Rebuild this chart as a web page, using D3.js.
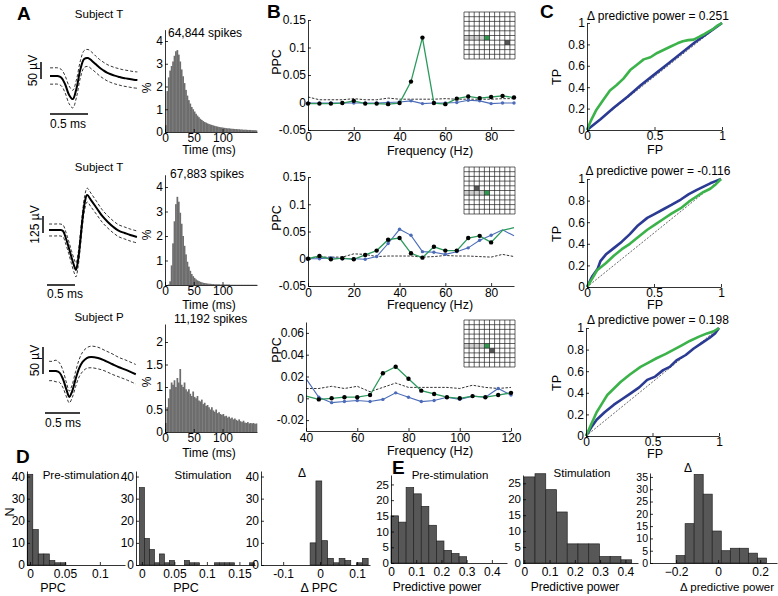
<!DOCTYPE html>
<html><head><meta charset="utf-8">
<script src="https://cdn.jsdelivr.net/npm/d3@7"></script>
<style>body{margin:0;background:#fff;}</style>
</head><body>
<svg id="c" width="778" height="596"></svg>
<script>
// ---------------- DATA ----------------
// Panel A waveforms (time ms, mean µV, sd µV)
const waveT1 = [0,0.05,0.1,0.15,0.2,0.25,0.3,0.35,0.4,0.45,0.5,0.55,0.6,0.65,0.7,0.75,0.8,0.85,0.9,0.95,1.0,1.05,1.1,1.15];
const waveMean1 = [0,0,0,-5,-25,-55,-68,-35,20,50,53,45,35,25,17,10,5,1,-2,-5,-7,-9,-11,-12];
const waveSd1 = [24,24,24,24,25,26,26,26,25,25,25,25,24,24,24,24,24,24,24,24,24,24,24,24];
const waveT2 = [0,0.1,0.2,0.25,0.3,0.35,0.4,0.45,0.48,0.52,0.56,0.6,0.64,0.68,0.75,0.85,0.95,1.05,1.15,1.25,1.35,1.45,1.57];
const waveMean2 = [0,0,0,-7,-59,-125,-198,-265,-294,-220,-74,88,206,257,220,162,103,59,22,-7,-22,-37,-51];
const waveSd2 = [44,44,44,44,45,46,48,50,51,50,48,48,50,51,50,48,46,45,44,44,44,44,44];
const waveT3 = [0,0.05,0.1,0.15,0.2,0.25,0.29,0.33,0.38,0.43,0.48,0.54,0.6,0.7,0.8,0.9,1.0,1.1,1.24];
const waveMean3 = [0,0,0,-3,-15,-35,-48,-38,-15,5,17,24,26,24,19,13,7,2,-6];
const waveSd3 = [18,18,20,18,16,13,11,12,14,16,18,19,20,20,19,19,18,18,18];
const subjects = ["Subject T","Subject T","Subject P"];
const voltBars = ["50 µV","125 µV","50 µV"];
const spikeCounts = ["64,844 spikes","67,883 spikes","11,192 spikes"];
// ISI histograms, % per 2.5 ms bin, 0..160 ms
const isiBin = 2.5;
const isi1 = [0.3,1.8,2.4,2.7,2.9,3.1,3.35,3.55,3.6,3.4,3.1,2.75,2.45,2.15,1.85,1.6,1.4,1.25,1.1,1.0,0.9,0.8,0.72,0.65,0.58,0.53,0.48,0.44,0.41,0.38,0.35,0.33,0.31,0.29,0.27,0.25,0.24,0.22,0.21,0.2,
  0.19,0.18,0.17,0.16,0.16,0.15,0.14,0.14,0.13,0.13,0.12,0.12,0.11,0.11,0.1,0.1,0.1,0.09,0.09,0.09,0.08,0.08,0.08,0.07];
const isi2 = [0,0,0.02,0.15,0.8,1.7,2.6,3.3,3.6,3.4,2.95,2.5,2.0,1.6,1.25,0.95,0.75,0.58,0.45,0.36,0.29,0.23,0.19,0.16,0.13,0.11,0.09,0.08,0.07,0.06,
  0.05,0.05,0.04,0.04,0.03,0.03,0.03,0.03,0.02,0.02,0.02,0.02,0.02,0.02,0.02,0.01,0.01,0.01,0.01,0.01,0.01,0.01,0.01,0.01,0.01,0.01,0.01,0.01,0.01,0.01,0.01,0.01,0.01,0.01];
const isi3 = [0.2,0.55,0.75,0.95,1.1,1.05,1.15,1.0,1.2,1.1,1.4,1.05,1.0,1.1,0.95,0.9,0.95,0.85,0.8,0.9,0.78,0.75,0.8,0.7,0.68,0.72,0.62,0.65,0.58,0.6,
  0.55,0.5,0.55,0.48,0.45,0.5,0.42,0.44,0.4,0.38,0.4,0.35,0.36,0.32,0.34,0.3,0.32,0.28,0.3,0.27,0.25,0.28,0.24,0.22,0.25,0.21,0.2,0.22,0.19,0.2,0.19,0.2,0.18,0.19];

// Panel B: PPC spectra
const freqB = [0,5,10,15,20,25,30,35,40,45,50,55,60,65,70,75,80,85,90];
const freqB3 = [40,45,50,55,60,65,70,75,80,85,90,95,100,105,110,115,120];
const greenB1 = [-0.002,-0.002,-0.002,-0.001,0.003,-0.002,-0.002,-0.003,-0.001,0.038,0.118,-0.001,-0.003,0.007,0.011,0.008,0.01,0.012,0.009];
const blueB1  = [-0.001,-0.001,-0.001,-0.001,-0.001,-0.001,-0.001,0,0.001,0.003,-0.002,-0.001,-0.001,0,0.004,0.003,-0.002,-0.001,-0.001];
const dashB1  = [0.01,0.005,0.005,0.005,0.007,0.005,0.005,0.008,0.006,0.006,0.006,0.006,0.007,0.006,0.006,0.006,0.006,0.007,0.007];
const greenB2 = [0,0.005,-0.001,0.001,-0.001,0.007,0.015,0.035,0.038,0.01,0.002,0.022,0.015,0.015,0.038,0.042,0.03,0.052,0.057];
const blueB2  = [0,0,0.002,0,0,-0.001,0.004,0.028,0.054,0.043,0.013,0.012,0.008,0.013,0.02,0.034,0.043,0.053,0.042];
const dashB2  = [0.002,0.003,0.003,0.003,0.009,0.008,0.004,0.005,0.005,0.005,0.003,0.004,0.006,0.005,0.005,0.004,0.003,0.008,0.004];
const greenB3 = [0.002,-0.001,0,0.001,0.001,0.003,0.023,0.029,0.018,0.007,0.004,0.001,0,0.002,0.001,0.003,0.005];
const blueB3  = [0.018,0.001,-0.004,-0.003,-0.002,-0.003,-0.001,0.005,0.001,-0.003,-0.002,0.001,-0.001,0.002,0.001,0.009,0.003];
const dashB3  = [0.009,0.009,0.011,0.009,0.011,0.006,0.01,0.014,0.01,0.01,0.01,0.01,0.009,0.012,0.01,0.009,0.01];
const markFromB = [0,0,1];
const markToB = [18,16,16];
// inset electrode grids: [row, col]
const insetHatch = [[5,0],[5,1],[5,2],[5,3]];
const insetGreen = [[5,4],[5,4],[5,4]];
const insetGray  = [[6,8],[4,2],[6,5]];

// Panel C: ROC curves
const rocTitles = ["\u0394 predictive power = 0.251","\u0394 predictive power = -0.116","\u0394 predictive power = 0.198"];
const rocGreenFP1 = [0,0.03,0.07,0.12,0.17,0.22,0.27,0.32,0.37,0.42,0.47,0.52,0.57,0.62,0.67,0.71,0.75,0.79,0.83,0.86,0.9,0.93,0.96,1];
const rocGreenTP1 = [0,0.09,0.19,0.28,0.37,0.42,0.48,0.56,0.61,0.66,0.68,0.72,0.75,0.78,0.81,0.83,0.84,0.845,0.87,0.89,0.92,0.94,0.97,1];
const rocBlueFP1  = [0,0.1,0.2,0.3,0.4,0.5,0.6,0.7,0.8,0.9,1];
const rocBlueTP1  = [0,0.1,0.21,0.31,0.42,0.52,0.62,0.72,0.82,0.91,1];
const rocGreenFP2 = [0,0.04,0.075,0.14,0.2,0.26,0.32,0.38,0.45,0.51,0.57,0.63,0.7,0.76,0.82,0.87,0.92,0.96,1];
const rocGreenTP2 = [0,0.08,0.155,0.22,0.29,0.35,0.4,0.46,0.53,0.58,0.63,0.68,0.73,0.79,0.84,0.88,0.91,0.95,1];
const rocBlueFP2  = [0,0.04,0.08,0.1,0.14,0.2,0.26,0.32,0.38,0.45,0.51,0.57,0.63,0.7,0.76,0.82,0.87,0.92,0.96,1];
const rocBlueTP2  = [0,0.1,0.17,0.24,0.3,0.36,0.42,0.49,0.57,0.64,0.68,0.72,0.76,0.81,0.86,0.9,0.93,0.96,0.98,1];
const rocGreenFP3 = [0,0.04,0.08,0.12,0.16,0.21,0.26,0.33,0.41,0.47,0.53,0.6,0.66,0.72,0.78,0.85,0.91,0.96,1];
const rocGreenTP3 = [0,0.11,0.22,0.3,0.38,0.44,0.5,0.57,0.64,0.68,0.72,0.76,0.8,0.84,0.88,0.92,0.95,0.97,1];
const rocBlueFP3  = [0,0.04,0.08,0.14,0.21,0.27,0.33,0.4,0.46,0.52,0.58,0.63,0.68,0.75,0.81,0.87,0.93,0.97,1];
const rocBlueTP3  = [0,0.08,0.15,0.22,0.29,0.34,0.39,0.45,0.52,0.55,0.61,0.64,0.7,0.75,0.81,0.86,0.91,0.95,1];

// Panel D: PPC histograms (counts)
const dPreCounts  = [41,16,5,5,2,1,1];
const dStimCounts = [35,12,7,1,5,1,2,0,0,2,1,1,0,0,0,1,1,1,1,0,0,0,1];
const dDiffCounts = [10,38,11,3,1,3,2,0,1,3];
// Panel E: predictive power histograms
const ePreCounts  = [15,13,24,22,18,12,7,4,3,2];
const eStimCounts = [27,28,23,16,6,6,6,2,2,1];
const eDiffCounts = [3,16,36,28,13,5,6,6,4,2];

// ---------------- DRAWING ----------------
const FONT = '"Liberation Sans", Arial, Helvetica, sans-serif';
const TICK = 12, LAB = 12;
const svg = d3.select('#c');
svg.append('rect').attr('width',778).attr('height',596).attr('fill','#fff');
const G = svg.append('g');
const fmt = d => String(+(+d).toFixed(4));
const fmtM = d => fmt(d).replace('-', '\u2212');

function text(x, y, s, o = {}) {
  const t = G.append('text').attr('x', x).attr('y', y).text(s)
    .attr('font-size', o.size || 12).attr('font-family', FONT)
    .attr('text-anchor', o.anchor || 'middle').attr('fill', '#000');
  if (o.bold) t.attr('font-weight', 'bold');
  if (o.rot) t.attr('transform', `rotate(${o.rot},${x},${y})`);
  return t;
}
function styleAxis(ga, size) {
  ga.attr('font-family', null).attr('font-size', null);
  ga.select('.domain').attr('stroke', '#000').attr('stroke-width', 0.8);
  ga.selectAll('.tick line').attr('stroke', '#000').attr('stroke-width', 0.8);
  ga.selectAll('.tick text').attr('font-size', size || TICK).attr('font-family', FONT).attr('fill', '#000');
}
function axL(y, x0, ticks, f, pad, size) {
  const a = d3.axisLeft(y).tickValues(ticks).tickSizeInner(-3).tickSizeOuter(0).tickPadding(pad ?? 2).tickFormat(f || fmt);
  const ga = G.append('g').attr('transform', `translate(${x0},0)`).call(a); styleAxis(ga, size); return ga;
}
function axB(x, y0, ticks, f, pad) {
  const a = d3.axisBottom(x).tickValues(ticks).tickSizeInner(-3).tickSizeOuter(0).tickPadding(pad ?? 2).tickFormat(f || fmt);
  const ga = G.append('g').attr('transform', `translate(0,${y0})`).call(a); styleAxis(ga); return ga;
}

// Panel letters
text(17, 20, 'A', {size: 19, bold: true, anchor: 'start'});
text(267, 18, 'B', {size: 19, bold: true, anchor: 'start'});
text(540, 18, 'C', {size: 19, bold: true, anchor: 'start'});
text(16, 463, 'D', {size: 19, bold: true, anchor: 'start'});
text(392, 474, 'E', {size: 19, bold: true, anchor: 'start'});

// ---- Panel A ----
const waves = [
  {t: waveT1, m: waveMean1, s: waveSd1, x0: 50, pxms: 76, base: 76, pxuv: 0.34, barUv: 50, barX: 41, barShift: 0, timeBarY: 114, titleY: 18, labY: 128},
  {t: waveT2, m: waveMean2, s: waveSd2, x0: 49, pxms: 56, base: 230, pxuv: 0.136, barUv: 125, barX: 43, barShift: -2, timeBarY: 285, titleY: 171, labY: 298},
  {t: waveT3, m: waveMean3, s: waveSd3, x0: 49, pxms: 70, base: 371, pxuv: 0.54, barUv: 50, barX: 43, barShift: -4, timeBarY: 413, titleY: 321, labY: 427}
];
waves.forEach((w, k) => {
  const x = d3.scaleLinear().domain([0, 1]).range([w.x0, w.x0 + w.pxms]);
  const y = d3.scaleLinear().domain([0, 1]).range([w.base, w.base - w.pxuv]);
  const idx = d3.range(w.t.length);
  const ln = acc => d3.line().x(i => x(w.t[i])).y(i => y(acc(i))).curve(d3.curveCatmullRom)(idx);
  G.append('path').attr('d', ln(i => w.m[i] + w.s[i])).attr('fill', 'none').attr('stroke', '#000').attr('stroke-width', 0.8).attr('stroke-dasharray', '3,2');
  G.append('path').attr('d', ln(i => w.m[i] - w.s[i])).attr('fill', 'none').attr('stroke', '#000').attr('stroke-width', 0.8).attr('stroke-dasharray', '3,2');
  G.append('path').attr('d', ln(i => w.m[i])).attr('fill', 'none').attr('stroke', '#000').attr('stroke-width', 2);
  const yb0 = y(0) + 3, yb1 = yb0 - w.barUv * w.pxuv;
  G.append('line').attr('x1', w.barX).attr('x2', w.barX).attr('y1', yb0).attr('y2', yb1).attr('stroke', '#000').attr('stroke-width', 1.5);
  text(w.barX - 4, (yb0 + yb1) / 2, voltBars[k], {size: 12, rot: -90});
  G.append('line').attr('x1', x(0) + w.barShift).attr('x2', x(0.5) + w.barShift).attr('y1', w.timeBarY).attr('y2', w.timeBarY).attr('stroke', '#000').attr('stroke-width', 1.5);
  text(x(0) + w.barShift, w.labY, '0.5 ms', {size: 12, anchor: 'start'});
  text(99, w.titleY, subjects[k], {size: 11.5});
});

const isiPanels = [
  {v: isi1, y0: 132, ymax: 4.5, pxu: 22.75, ticks: [0,1,2,3,4], title: 37, tx: 168, pctY: 88, timeY: 154},
  {v: isi2, y0: 285, ymax: 4.5, pxu: 24.5, ticks: [0,1,2,3,4], title: 178, tx: 170, pctY: 235, timeY: 309},
  {v: isi3, y0: 432, ymax: 2.4, pxu: 45, ticks: [0,0.5,1,1.5,2], title: 323, tx: 174, pctY: 382, timeY: 457}
];
isiPanels.forEach((p, k) => {
  const x = d3.scaleLinear().domain([0, 160]).range([165, 257]);
  const y = d3.scaleLinear().domain([0, p.ymax]).range([p.y0, p.y0 - p.ymax * p.pxu]);
  G.append('g').selectAll('rect').data(p.v).enter().append('rect')
    .attr('x', (d, i) => x(i * isiBin)).attr('width', (d, i) => x((i + 1) * isiBin) - x(i * isiBin) + 0.3)
    .attr('y', d => y(d)).attr('height', d => y(0) - y(d)).attr('fill', '#6d6d6d');
  axL(y, 165, p.ticks, fmt, 2);
  axB(x, p.y0, [0, 50, 100], fmt, 1);
  text(p.tx, p.title, spikeCounts[k], {size: 12, anchor: 'start'});
  text(151, p.pctY, '%', {size: 12, rot: -90});
  text(209, p.timeY, 'Time (ms)', {size: LAB});
});

// ---- Panel B ----
const bPanels = [
  {f: freqB, g: greenB1, b: blueB1, d: dashB1, xd: [0, 90], xr: [308, 514], yd: [-0.05, 0.15], yr: [130, 20], yt: [-0.05,0,0.05,0.1,0.15], xt: [0,20,40,60,80], labY: 155, ppcY: 62, gy: 12},
  {f: freqB, g: greenB2, b: blueB2, d: dashB2, xd: [0, 90], xr: [308, 514], yd: [-0.05, 0.15], yr: [286, 177], yt: [-0.05,0,0.05,0.1,0.15], xt: [0,20,40,60,80], labY: 309, ppcY: 218, gy: 167},
  {f: freqB3, g: greenB3, b: blueB3, d: dashB3, xd: [40, 120], xr: [306, 511], yd: [-0.03, 0.07], yr: [431, 322], yt: [-0.02,0,0.02,0.04,0.06], xt: [40,60,80,100,120], labY: 455, ppcY: 350, gy: 320}
];
bPanels.forEach((p, k) => {
  const x = d3.scaleLinear().domain(p.xd).range(p.xr);
  const y = d3.scaleLinear().domain(p.yd).range(p.yr);
  const idx = d3.range(p.f.length);
  const ln = arr => d3.line().x(i => x(p.f[i])).y(i => y(arr[i]))(idx);
  G.append('path').attr('d', ln(p.d)).attr('fill', 'none').attr('stroke', '#000').attr('stroke-width', 0.8).attr('stroke-dasharray', '2.5,1.5');
  G.append('path').attr('d', ln(p.b)).attr('fill', 'none').attr('stroke', '#4c6cb8').attr('stroke-width', 1.1);
  const marked = idx.filter(i => i >= markFromB[k] && i <= markToB[k]);
  G.append('g').selectAll('circle').data(marked).enter().append('circle')
    .attr('cx', i => x(p.f[i])).attr('cy', i => y(p.b[i])).attr('r', 1.7).attr('fill', '#4c6cb8');
  G.append('path').attr('d', ln(p.g)).attr('fill', 'none').attr('stroke', '#2b9a5c').attr('stroke-width', 1.3);
  G.append('g').selectAll('circle').data(marked).enter().append('circle')
    .attr('cx', i => x(p.f[i])).attr('cy', i => y(p.g[i])).attr('r', 2.2).attr('fill', '#000');
  axL(y, p.xr[0], p.yt, fmt, 2);
  axB(x, p.yr[0], p.xt, fmt, 2);
  text(430, p.labY, 'Frequency (Hz)', {size: LAB + 0.5});
  text(281, p.ppcY, 'PPC', {size: LAB + 0.5, rot: -90});
  const gx = 464, gw = 51, gh = 47, cw = gw / 10, ch = gh / 10;
  const gg = G.append('g');
  insetHatch.forEach(([r, c]) => gg.append('rect').attr('x', gx + c * cw).attr('y', p.gy + r * ch).attr('width', cw).attr('height', ch).attr('fill', '#cfcfcf'));
  gg.append('rect').attr('x', gx + insetGreen[k][1] * cw).attr('y', p.gy + insetGreen[k][0] * ch).attr('width', cw).attr('height', ch).attr('fill', '#2e9a4e');
  gg.append('rect').attr('x', gx + insetGray[k][1] * cw).attr('y', p.gy + insetGray[k][0] * ch).attr('width', cw).attr('height', ch).attr('fill', '#555');
  for (let i = 0; i <= 10; i++) {
    gg.append('line').attr('x1', gx + i * cw).attr('x2', gx + i * cw).attr('y1', p.gy).attr('y2', p.gy + gh).attr('stroke', '#222').attr('stroke-width', 0.7);
    gg.append('line').attr('y1', p.gy + i * ch).attr('y2', p.gy + i * ch).attr('x1', gx).attr('x2', gx + gw).attr('stroke', '#222').attr('stroke-width', 0.7);
  }
});

// ---- Panel C ----
const cPanels = [
  {gf: rocGreenFP1, gt: rocGreenTP1, bf: rocBlueFP1, bt: rocBlueTP1, xr: [587, 722], yr: [130, 23], titleY: 20, fpY: 154, tpY: 77},
  {gf: rocGreenFP2, gt: rocGreenTP2, bf: rocBlueFP2, bt: rocBlueTP2, xr: [587, 721], yr: [287, 179], titleY: 175, fpY: 309, tpY: 234},
  {gf: rocGreenFP3, gt: rocGreenTP3, bf: rocBlueFP3, bt: rocBlueTP3, xr: [586, 719], yr: [436, 328], titleY: 324, fpY: 458, tpY: 383}
];
cPanels.forEach((p, k) => {
  const x = d3.scaleLinear().domain([0, 1]).range(p.xr);
  const y = d3.scaleLinear().domain([0, 1]).range(p.yr);
  G.append('line').attr('x1', x(0)).attr('y1', y(0)).attr('x2', x(1)).attr('y2', y(1)).attr('stroke', '#000').attr('stroke-width', 0.6).attr('stroke-dasharray', '2,1.5');
  const ln = (fa, ta) => d3.line().x(i => x(fa[i])).y(i => y(ta[i]))(d3.range(fa.length));
  G.append('path').attr('d', ln(p.bf, p.bt)).attr('fill', 'none').attr('stroke', '#2b3a92').attr('stroke-width', 2.6).attr('stroke-linejoin', 'round');
  G.append('path').attr('d', ln(p.gf, p.gt)).attr('fill', 'none').attr('stroke', '#3cb34a').attr('stroke-width', 2.6).attr('stroke-linejoin', 'round');
  axL(y, p.xr[0], [0, 0.2, 0.4, 0.6, 0.8, 1], fmt, 2);
  axB(x, p.yr[0], [0, 0.5, 1], fmt, 1);
  text(658, p.titleY, rocTitles[k], {size: 12});
  text(655, p.fpY, 'FP', {size: LAB + 0.5});
  text(561, p.tpY, 'TP', {size: LAB + 0.5, rot: -90});
});

// ---- Panels D and E ----
function histPanel(c) {
  const x = d3.scaleLinear().domain(c.xd).range(c.xr);
  const y = d3.scaleLinear().domain(c.yd).range(c.yr);
  const bars = c.counts.map((v, i) => ({v, a: c.start + i * c.w, b: c.start + (i + 1) * c.w})).filter(d => d.v > 0);
  G.append('g').selectAll('rect').data(bars).enter().append('rect')
    .attr('x', d => x(d.a)).attr('width', d => x(d.b) - x(d.a)).attr('y', d => y(d.v)).attr('height', d => y(0) - y(d.v))
    .attr('fill', '#575757').attr('stroke', '#222').attr('stroke-width', 0.7);
  axL(y, c.xr[0], c.yt, fmt, 2, c.ytSize);
  axB(x, c.yr[0], c.xt, c.f || fmt, 4);
}
const dY = [565, 471];
histPanel({counts: dPreCounts, start: -0.00395, w: 0.0079, xd: [-0.0043, 0.136], xr: [27, 125], yd: [0, 42.5], yr: dY, yt: [0,10,20,30,40], xt: [0, 0.05, 0.1]});
histPanel({counts: dStimCounts, start: -0.00385, w: 0.0077, xd: [-0.009, 0.174], xr: [136, 255], yd: [0, 42.5], yr: dY, yt: [0,10,20,30,40], xt: [0, 0.05, 0.1, 0.15]});
histPanel({counts: dDiffCounts, start: -0.027, w: 0.0157, xd: [-0.16, 0.135], xr: [261, 370], yd: [0, 42.5], yr: dY, yt: [0,10,20,30,40], xt: [-0.1, 0, 0.1]});
text(14, 512, 'N', {size: LAB + 0.5, rot: -90});
text(81, 479, 'Pre-stimulation', {size: 11.5});
text(203, 479, 'Stimulation', {size: 11.5});
text(302, 477, '\u0394', {size: 12});
text(53, 592, 'PPC', {size: LAB + 0.5});
text(186, 592, 'PPC', {size: LAB + 0.5});
text(319, 592, '\u0394 PPC', {size: LAB + 0.5});

histPanel({counts: ePreCounts, start: 0, w: 0.03, xd: [0, 0.46], xr: [391, 507], yd: [0, 28], yr: [563, 475], yt: [0,5,10,15,20,25], xt: [0,0.1,0.2,0.3,0.4], ytSize: 11.5});
histPanel({counts: eStimCounts, start: 0, w: 0.0425, xd: [-0.005, 0.45], xr: [523, 638], yd: [0, 27.6], yr: [563, 475], yt: [0,5,10,15,20,25], xt: [0,0.1,0.2,0.3,0.4], ytSize: 11.5});
histPanel({counts: eDiffCounts, start: -0.2, w: 0.043, xd: [-0.324, 0.28], xr: [650, 777], yd: [0, 36.6], yr: [563, 473], yt: [0,5,10,15,20,25,30,35], xt: [-0.2, 0, 0.2], f: fmtM, ytSize: 10.5});
text(450, 479, 'Pre-stimulation', {size: 11.5});
text(582, 477, 'Stimulation', {size: 11.5});
text(688, 472, '\u0394', {size: 12});
text(437, 591, 'Predictive power', {size: 12});
text(575, 591, 'Predictive power', {size: 12});
text(727, 591, '\u0394 predictive power', {size: 11.5});
</script>
</body></html>
